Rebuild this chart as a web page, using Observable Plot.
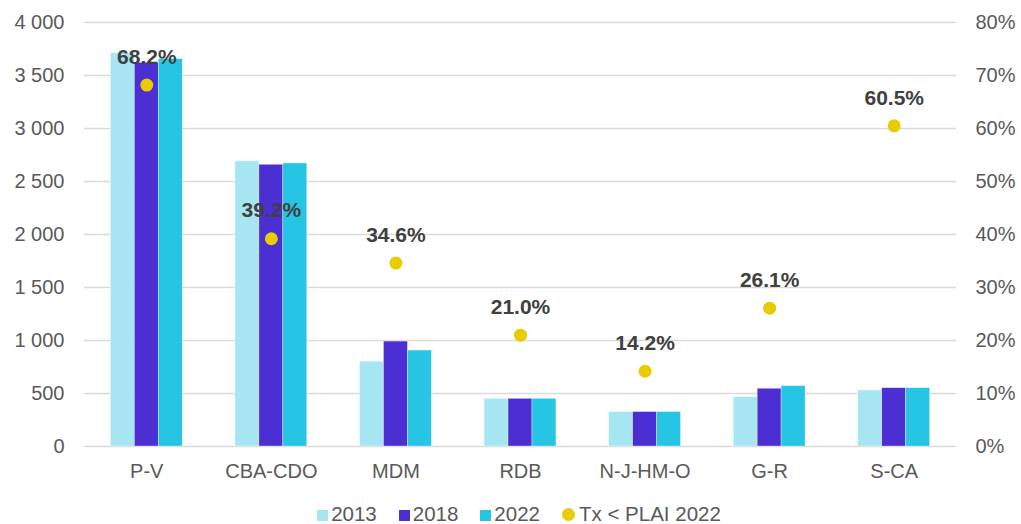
<!DOCTYPE html>
<html><head><meta charset="utf-8">
<script src="https://cdn.jsdelivr.net/npm/d3@7"></script>
<script src="https://cdn.jsdelivr.net/npm/@observablehq/plot@0.6"></script>
<style>
html,body{margin:0;background:#fff;font-family:"Liberation Sans",Arial,sans-serif;overflow:hidden;}
#legend{display:flex;justify-content:center;gap:22px;font-size:20.5px;line-height:23px;color:#595959;margin-top:7px;padding-left:17px;}
#legend span.item{display:flex;align-items:center;gap:3px;}
#legend .sw{width:11px;height:11px;display:inline-block;margin-top:3px;}
#legend .dot{width:13px;height:13px;border-radius:50%;display:inline-block;margin-right:1px;margin-top:2px;}
</style></head>
<body>
<div id="chart"></div>
<div id="legend"></div>
<script>
const categories = ["P-V","CBA-CDO","MDM","RDB","N-J-HM-O","G-R","S-CA"];
const years = ["2013","2018","2022"];
const v2013 = [3710,2690,800,450,325,465,528];
const v2018 = [3620,2658,990,450,325,545,550];
const v2022 = [3655,2670,905,450,325,570,550];
const txPlai2022 = [68.2,39.2,34.6,21.0,14.2,26.1,60.5];
const yearColors = ["#A6E6F3","#4B2FD2","#25C5E3"];
const dotColor = "#E8CB00";
const yTicks = [0,500,1000,1500,2000,2500,3000,3500,4000];
const pctTicks = [0,10,20,30,40,50,60,70,80];

const series = [v2013, v2018, v2022];
const bars = [];
categories.forEach((c,i)=>years.forEach((y,j)=>bars.push({cat:c,year:y,value:series[j][i]})));
const pts = categories.map((c,i)=>({cat:c,pct:txPlai2022[i]}));
const PCT_TO_Y = 4000/80;
const fmt = d => d3.format(",")(d).replace(/,/g," ");

const chart = Plot.plot({
  width:1021, height:495,
  marginTop:22, marginBottom:49, marginLeft:84, marginRight:65,
  style:{fontFamily:"'Liberation Sans', Arial, sans-serif", fontSize:"20px", color:"#595959"},
  fx:{domain:categories, padding:0, round:false, axis:"bottom", tickSize:0, tickPadding:17, label:null},
  x:{domain:years, paddingInner:0, paddingOuter:1.1, round:false, axis:null},
  y:{domain:[0,4000], axis:null},
  color:{domain:years, range:yearColors},
  marks:[
    Plot.ruleY(yTicks,{stroke:"#d9d9d9", strokeWidth:1.3}),
    Plot.axisY({anchor:"left", ticks:yTicks, tickSize:0, tickPadding:20, tickFormat:fmt, label:null}),
    Plot.axisY({anchor:"right", ticks:pctTicks.map(p=>p*PCT_TO_Y), tickSize:0, tickPadding:19, tickFormat:d=>(d/PCT_TO_Y)+"%", label:null}),
    Plot.barY(bars,{fx:"cat", x:"year", y:"value", fill:"year", stroke:"#fff", strokeWidth:0.6, strokeOpacity:0.6}),
    Plot.dot(pts,{fx:"cat", y:d=>d.pct*PCT_TO_Y, r:6.5, fill:dotColor}),
    Plot.text(pts,{fx:"cat", y:d=>d.pct*PCT_TO_Y, text:d=>d.pct.toFixed(1)+"%", dy:-28, fontSize:21, fontWeight:"bold", fill:"#404040"})
  ]
});
document.getElementById("chart").appendChild(chart);
chart.style.display="block";

const lg = document.getElementById("legend");
years.forEach((y,j)=>{
  const s=document.createElement("span");s.className="item";
  s.innerHTML=`<span class="sw" style="background:${yearColors[j]}"></span>${y}`;
  lg.appendChild(s);
});
const s=document.createElement("span");s.className="item";
s.innerHTML=`<span class="dot" style="background:${dotColor}"></span>Tx &lt; PLAI 2022`;
lg.appendChild(s);
</script>
</body></html>
